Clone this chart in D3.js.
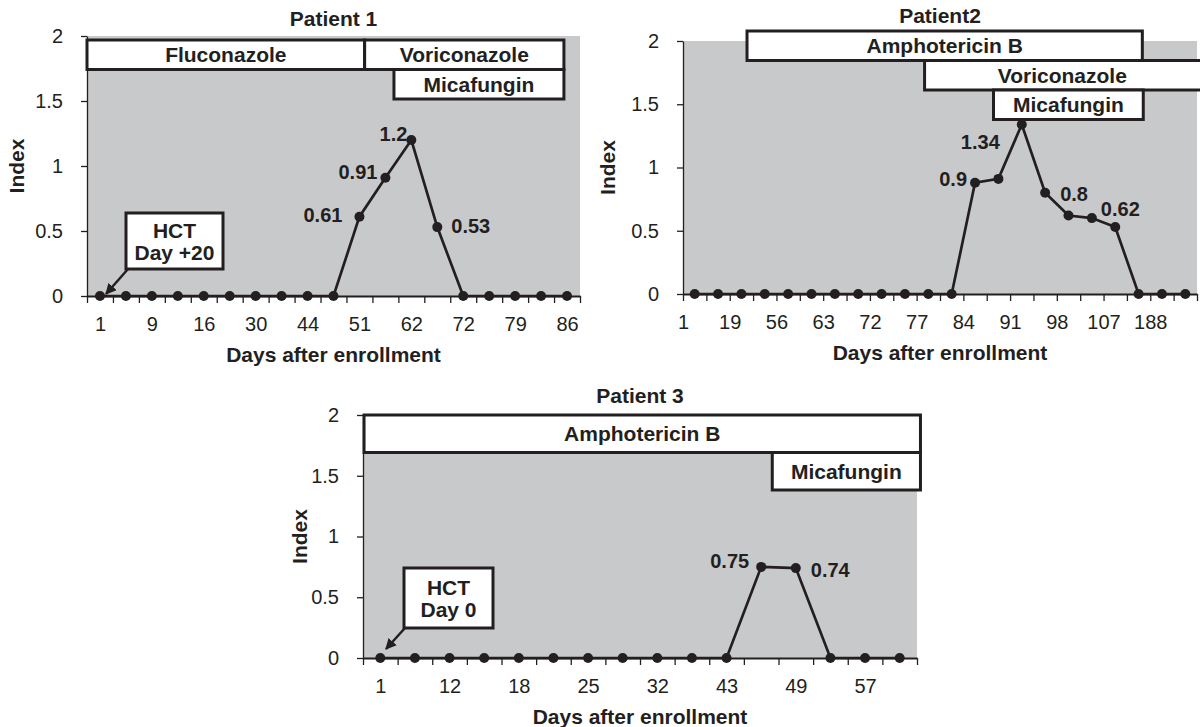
<!DOCTYPE html>
<html>
<head>
<meta charset="utf-8">
<script src="https://cdn.jsdelivr.net/npm/d3@7"></script>
<style>
	body { margin: 0; background: #fff; }
	svg text { font-family: "Liberation Sans", Arial, Helvetica, sans-serif; fill: #231f20; }
</style>
</head>
<body>
<svg id="chart" width="1200" height="727"></svg>
<script>
// Patient 1
var p1Ticks = ["1", "9", "16", "30", "44", "51", "62", "72", "79", "86"];
var p1Values = [0, 0, 0, 0, 0, 0, 0, 0, 0, 0, 0.61, 0.91, 1.2, 0.53, 0, 0, 0, 0, 0];
var p1Labels = [[10, "0.61"], [11, "0.91"], [12, "1.2"], [13, "0.53"]];
// drug, row, start, end (in sample index units)
var p1Drugs = [["Fluconazole", 0, 0, 10.7], ["Voriconazole", 0, 10.7, 18.38], ["Micafungin", 1, 11.83, 18.38]];
var p1Hct = ["HCT", "Day +20"];

// Patient 2
var p2Ticks = ["1", "19", "56", "63", "72", "77", "84", "91", "98", "107", "188"];
var p2Values = [0, 0, 0, 0, 0, 0, 0, 0, 0, 0, 0, 0, 0.88, 0.91, 1.34, 0.80, 0.62, 0.60, 0.53, 0, 0, 0];
var p2Labels = [[12, "0.9"], [14, "1.34"], [15, "0.8"], [17, "0.62"]];
var p2Drugs = [["Amphotericin B", 0, 2.74, 19.66], ["Voriconazole", 1, 10.34, 22.6], ["Micafungin", 2, 13.29, 19.7]];

// Patient 3
var p3Ticks = ["1", "12", "18", "25", "32", "43", "49", "57"];
var p3Values = [0, 0, 0, 0, 0, 0, 0, 0, 0, 0, 0, 0.75, 0.74, 0, 0, 0];
var p3Labels = [[11, "0.75"], [12, "0.74"]];
var p3Drugs = [["Amphotericin B", 0, 0.03, 16.1], ["Micafungin", 1, 11.82, 16.1]];
var p3Hct = ["HCT", "Day 0"];

var yTicks = [0, 0.5, 1, 1.5, 2];

(function() {
	var ink = "#231f20";
	var svg = d3.select("#chart");

	svg.append("defs").append("marker")
		.attr("id", "arrow")
		.attr("markerUnits", "userSpaceOnUse")
		.attr("viewBox", "0 0 10 10")
		.attr("refX", 9).attr("refY", 5)
		.attr("markerWidth", 11).attr("markerHeight", 11)
		.attr("orient", "auto")
		.append("path")
		.attr("d", "M0,0L10,5L0,10z")
		.attr("fill", ink);

	var panels = [{
		title: "Patient 1", ticks: p1Ticks, values: p1Values, labels: p1Labels, drugs: p1Drugs, hct: p1Hct,
		x0: 87, x1: 580, yBottom: 296, yTop: 36, tickAt: "center",
		titleY: 26, yTitleX: 17, laneTop: 40, laneH: 29.5,
		labelPos: [[-17, 5, "end"], [-8, 1, "end"], [-4, 1, "end"], [14, 6, "start"]],
		hctBox: [126, 213, 97, 56], hctArrow: [128, 269, 106, 294]
	}, {
		title: "Patient2", ticks: p2Ticks, values: p2Values, labels: p2Labels, drugs: p2Drugs, hct: null,
		x0: 683, x1: 1197, yBottom: 294, yTop: 41, tickAt: "boundary",
		titleY: 23, yTitleX: 608, laneTop: 31, laneH: 29.5,
		labelPos: [[-8, 3, "end"], [-22, 25, "end"], [15, 8, "start"], [9, -2, "start"]]
	}, {
		title: "Patient 3", ticks: p3Ticks, values: p3Values, labels: p3Labels, drugs: p3Drugs, hct: p3Hct,
		x0: 363, x1: 917, yBottom: 658, yTop: 415, tickAt: "center",
		titleY: 403, yTitleX: 300, laneTop: 415, laneH: 37.5,
		labelPos: [[-12, 1, "end"], [15, 9, "start"]],
		hctBox: [404, 568, 89, 60], hctArrow: [405, 628, 386, 649]
	}];

	panels.forEach(function(p) {
		var n = p.values.length;
		var x = d3.scaleLinear().domain([0, n]).range([p.x0, p.x1]);
		var y = d3.scaleLinear().domain([0, 2]).range([p.yBottom, p.yTop]);
		var g = svg.append("g");
		var cx = (p.x0 + p.x1) / 2;

		//plot background
		g.append("rect")
			.attr("x", p.x0).attr("y", y(2))
			.attr("width", p.x1 - p.x0).attr("height", y(0) - y(2))
			.attr("fill", "#c8c9cb");

		//axis
		var ya = g.append("g")
			.attr("transform", "translate(" + p.x0 + ",0)")
			.call(d3.axisLeft(y).tickValues(yTicks).tickSize(6).tickSizeOuter(0).tickPadding(18).tickFormat(d3.format("")))
			.attr("color", ink).attr("font-size", 20);
		ya.selectAll("line").attr("stroke-width", 1.3);
		ya.select(".domain").attr("stroke-width", 1.3);

		var xa = g.append("g")
			.attr("transform", "translate(0," + y(0) + ")")
			.call(d3.axisBottom(x).tickValues(d3.range(n + 1)).tickSize(7).tickSizeOuter(0).tickFormat(""))
			.attr("color", ink);
		xa.selectAll("line").attr("stroke-width", 1.3);
		xa.select(".domain").attr("stroke-width", 2);

		var pos = p.ticks.map(function(d, j) {
			return p.tickAt == "center" ? 2 * j + 0.5 : 2 * j;
		});
		var xl = g.append("g")
			.attr("transform", "translate(0," + y(0) + ")")
			.call(d3.axisBottom(x).tickValues(pos).tickSize(0).tickPadding(21).tickFormat(function(d, j) {
				return p.ticks[j];
			}))
			.attr("font-size", 20);
		xl.select(".domain").remove();

		//titles
		g.append("text")
			.attr("x", cx).attr("y", p.titleY)
			.attr("text-anchor", "middle")
			.attr("font-size", 21).attr("font-weight", "bold")
			.text(p.title);

		g.append("text")
			.attr("x", cx).attr("y", y(0) + 66)
			.attr("text-anchor", "middle")
			.attr("font-size", 21).attr("font-weight", "bold")
			.text("Days after enrollment");

		g.append("text")
			.attr("transform", "translate(" + (p.yTitleX + 7) + "," + ((y(0) + y(2)) / 2) + ") rotate(-90)")
			.attr("text-anchor", "middle")
			.attr("font-size", 21).attr("font-weight", "bold")
			.text("Index");

		//drug boxes
		var box = g.selectAll("g.drug")
			.data(p.drugs)
			.enter().append("g")
			.attr("class", "drug");

		box.append("rect")
			.attr("x", function(d) { return x(d[2]); })
			.attr("y", function(d) { return p.laneTop + d[1] * p.laneH; })
			.attr("width", function(d) { return x(d[3]) - x(d[2]); })
			.attr("height", p.laneH)
			.attr("fill", "#fff")
			.attr("stroke", ink)
			.attr("stroke-width", 3);

		box.append("text")
			.attr("x", function(d) { return (x(d[2]) + Math.min(x(d[3]), 1200)) / 2; })
			.attr("y", function(d) { return p.laneTop + d[1] * p.laneH + p.laneH / 2 + 7.5; })
			.attr("text-anchor", "middle")
			.attr("font-size", 21).attr("font-weight", "bold")
			.text(function(d) { return d[0]; });

		//HCT note
		if (p.hct) {
			var b = p.hctBox;
			g.append("rect")
				.attr("x", b[0]).attr("y", b[1])
				.attr("width", b[2]).attr("height", b[3])
				.attr("fill", "#fff")
				.attr("stroke", ink)
				.attr("stroke-width", 3);
			p.hct.forEach(function(t, k) {
				g.append("text")
					.attr("x", b[0] + b[2] / 2)
					.attr("y", b[1] + b[3] / 2 - 3 + k * 22)
					.attr("text-anchor", "middle")
					.attr("font-size", 21).attr("font-weight", "bold")
					.text(t);
			});
			var a = p.hctArrow;
			g.append("line")
				.attr("x1", a[0]).attr("y1", a[1])
				.attr("x2", a[2]).attr("y2", a[3])
				.attr("stroke", ink)
				.attr("stroke-width", 2.5)
				.attr("marker-end", "url(#arrow)");
		}

		//line
		var line = d3.line()
			.x(function(d, i) { return x(i + 0.5); })
			.y(function(d) { return y(d); });

		g.append("path")
			.datum(p.values)
			.attr("d", line)
			.attr("fill", "none")
			.attr("stroke", ink)
			.attr("stroke-width", 2.7);

		g.selectAll("circle")
			.data(p.values)
			.enter().append("circle")
			.attr("cx", function(d, i) { return x(i + 0.5); })
			.attr("cy", function(d) { return y(d); })
			.attr("r", 5)
			.attr("fill", ink);

		g.selectAll("text.val")
			.data(p.labels)
			.enter().append("text")
			.attr("class", "val")
			.attr("x", function(d, k) { return x(d[0] + 0.5) + p.labelPos[k][0]; })
			.attr("y", function(d, k) { return y(p.values[d[0]]) + p.labelPos[k][1]; })
			.attr("text-anchor", function(d, k) { return p.labelPos[k][2]; })
			.attr("font-size", 20).attr("font-weight", "bold")
			.text(function(d) { return d[1]; });
	});

})();
</script>
</body>
</html>
